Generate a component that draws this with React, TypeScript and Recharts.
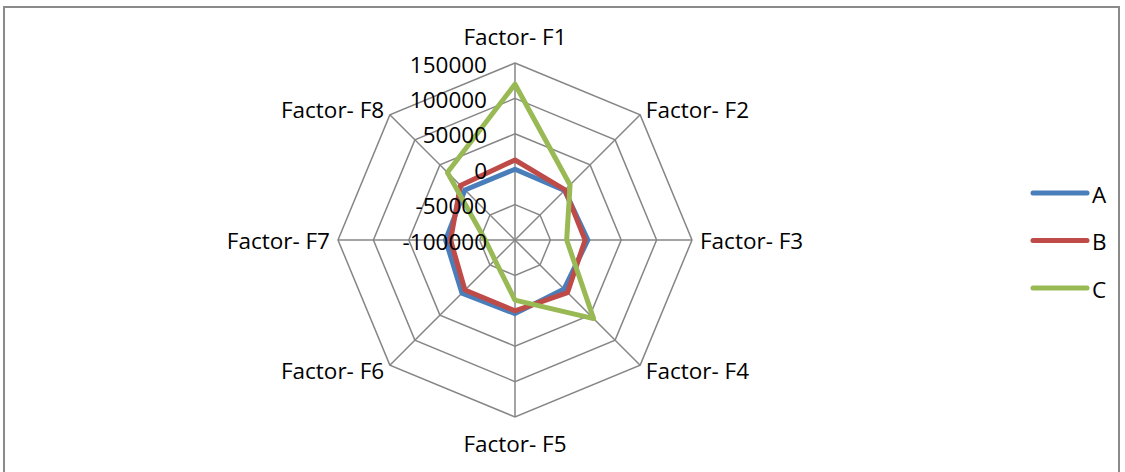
import React from 'react';
import { RadarChart, Radar, PolarGrid, PolarAngleAxis, PolarRadiusAxis, Legend } from 'recharts';

// Factors around the radar, clockwise from the top
const factors = ['Factor- F1', 'Factor- F2', 'Factor- F3', 'Factor- F4', 'Factor- F5', 'Factor- F6', 'Factor- F7', 'Factor- F8'];

// Series values per factor
const seriesA = [0, -1000, 3000, -2000, 4000, 6000, -2000, 0];
const seriesB = [13000, 0, -1000, 5000, 0, 0, -9000, 9000];
const seriesC = [120000, 10000, -27000, 57000, -15000, -60000, -58000, 35000];

// Radial scale ticks
const radiusTicks = [-100000, -50000, 0, 50000, 100000, 150000];

const seriesColors = { A: '#4A7EBB', B: '#BE4B48', C: '#98B954' };

const data = factors.map((factor, i) => ({
  factor,
  A: seriesA[i],
  B: seriesB[i],
  C: seriesC[i],
}));

const FONT = '"Open Sans", "Liberation Sans", sans-serif';
const FONT_SIZE = 22.5;
const CX = 515;
const CY = 240;

const AngleTick = (props: any) => {
  const { x, y, payload } = props;
  const dx = x - CX;
  const dy = y - CY;
  let anchor: 'start' | 'middle' | 'end' = 'middle';
  let ty = y;
  if (Math.abs(dx) < 2) {
    ty = dy < 0 ? y - 19 : y + 18;
  } else if (dx > 0) {
    anchor = 'start';
  } else {
    anchor = 'end';
  }
  return (
    <text x={x} y={ty} textAnchor={anchor} dominantBaseline="central" fill="#000" fontFamily={FONT} fontSize={FONT_SIZE}>
      {payload.value}
    </text>
  );
};

const RadiusTick = (props: any) => {
  const { x, y, payload } = props;
  return (
    <text x={x - 28} y={y + 1} textAnchor="end" dominantBaseline="central" fill="#000" fontFamily={FONT} fontSize={FONT_SIZE}>
      {payload.value}
    </text>
  );
};

const renderLegend = (props: any) => {
  const { payload } = props;
  return (
    <svg width={84} height={130} style={{ display: 'block' }}>
      {payload.map((entry: any, i: number) => {
        const y = 15 + i * 47.5;
        return (
          <g key={entry.value}>
            <line x1={4} y1={y} x2={58} y2={y} stroke={entry.color} strokeWidth={5} strokeLinecap="round" />
            <text x={63} y={y + 1} dominantBaseline="central" fill="#000" fontFamily={FONT} fontSize={FONT_SIZE}>
              {entry.value}
            </text>
          </g>
        );
      })}
    </svg>
  );
};

export default function App() {
  return (
    <div style={{ position: 'absolute', left: 0, top: 0, width: 1125, height: 472, background: '#fff', overflow: 'hidden' }}>
      <div
        style={{
          position: 'absolute',
          left: 3,
          top: 6,
          width: 1117,
          height: 480,
          border: '2px solid #8a8a8a',
          boxSizing: 'border-box',
        }}
      />
      <div style={{ position: 'absolute', left: 0, top: 0 }}>
        <RadarChart
          width={1125}
          height={472}
          data={data}
          cx={CX}
          cy={CY}
          outerRadius={177}
          margin={{ top: 0, right: 0, bottom: 0, left: 0 }}
        >
          <PolarGrid gridType="polygon" stroke="#868686" strokeWidth={1.5} />
          <PolarAngleAxis dataKey="factor" tick={AngleTick} tickLine={false} axisLine={false} />
          <PolarRadiusAxis
            angle={90}
            domain={[-100000, 150000]}
            ticks={radiusTicks}
            tickCount={6}
            axisLine={false}
            tickLine={false}
            tick={RadiusTick}
          />
          <Radar name="A" dataKey="A" stroke={seriesColors.A} strokeWidth={5} fill="none" fillOpacity={0} dot={false} isAnimationActive={false} strokeLinejoin="round" />
          <Radar name="B" dataKey="B" stroke={seriesColors.B} strokeWidth={5} fill="none" fillOpacity={0} dot={false} isAnimationActive={false} strokeLinejoin="round" />
          <Radar name="C" dataKey="C" stroke={seriesColors.C} strokeWidth={5} fill="none" fillOpacity={0} dot={false} isAnimationActive={false} strokeLinejoin="round" />
          <Legend
            layout="vertical"
            align="right"
            verticalAlign="middle"
            content={renderLegend}
            wrapperStyle={{ left: 1029, top: 178, width: 84 }}
          />
        </RadarChart>
      </div>
    </div>
  );
}
